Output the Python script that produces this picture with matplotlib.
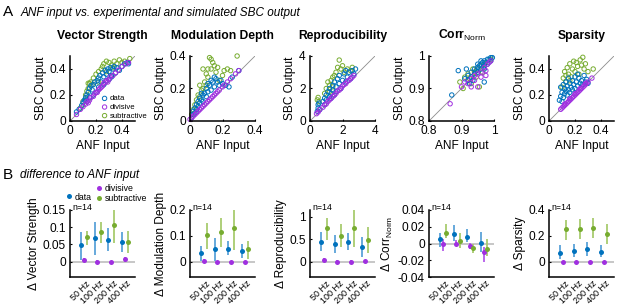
import numpy as np
import matplotlib
matplotlib.use("Agg")
import matplotlib.pyplot as plt
from matplotlib.lines import Line2D
from matplotlib.ticker import FormatStrFormatter
from matplotlib.transforms import ScaledTranslation

plt.rcParams['font.family'] = ['Liberation Sans', 'DejaVu Sans']
plt.rcParams['mathtext.fontset'] = 'custom'
plt.rcParams['mathtext.rm'] = 'Liberation Sans'

# ---- panel A: ANF input (x) vs SBC output (y) ----
vs_data = [(0.05,0.07),(0.07,0.09),(0.09,0.12),(0.10,0.14),(0.11,0.16),(0.12,0.18),(0.13,0.20),(0.13,0.15),
           (0.14,0.22),(0.15,0.25),(0.16,0.27),(0.17,0.24),(0.18,0.28),(0.19,0.30),(0.20,0.22),(0.21,0.31),
           (0.22,0.33),(0.23,0.35),(0.24,0.30),(0.25,0.37),(0.26,0.34),(0.27,0.39),(0.28,0.36),(0.29,0.40),
           (0.30,0.38),(0.31,0.41),(0.32,0.35),(0.33,0.40),(0.34,0.42),(0.35,0.37),(0.36,0.41),(0.38,0.39),
           (0.40,0.42),(0.42,0.44),(0.44,0.45),(0.45,0.44),(0.26,0.28),(0.30,0.32),(0.22,0.26),(0.18,0.20),
           (0.28,0.31),(0.32,0.34),(0.15,0.18),(0.12,0.16)]
vs_div = [(0.05,0.05),(0.08,0.09),(0.10,0.11),(0.12,0.13),(0.13,0.15),(0.15,0.16),(0.16,0.18),(0.18,0.19),
          (0.19,0.21),(0.20,0.22),(0.22,0.24),(0.23,0.25),(0.25,0.27),(0.26,0.29),(0.27,0.30),(0.28,0.31),
          (0.30,0.32),(0.31,0.34),(0.33,0.35),(0.35,0.37),(0.37,0.39),(0.40,0.42),(0.43,0.44),(0.45,0.45),
          (0.14,0.14),(0.21,0.22),(0.24,0.26),(0.29,0.30)]
vs_sub = [(0.08,0.10),(0.10,0.15),(0.12,0.20),(0.13,0.23),(0.14,0.25),(0.15,0.29),(0.16,0.30),(0.18,0.33),
          (0.20,0.36),(0.22,0.38),(0.24,0.40),(0.25,0.42),(0.26,0.44),(0.28,0.46),(0.30,0.45),(0.32,0.43),
          (0.34,0.46),(0.36,0.44),(0.38,0.47),(0.40,0.45),(0.42,0.46),(0.46,0.48),(0.22,0.30),(0.17,0.28),
          (0.28,0.38),(0.14,0.29),(0.33,0.41)]

md_data = [(0.01,0.02),(0.02,0.04),(0.02,0.06),(0.03,0.05),(0.03,0.08),(0.04,0.07),(0.04,0.10),(0.05,0.09),
           (0.05,0.12),(0.06,0.11),(0.06,0.14),(0.07,0.13),(0.08,0.16),(0.08,0.12),(0.09,0.17),(0.10,0.15),
           (0.10,0.20),(0.11,0.18),(0.12,0.22),(0.13,0.19),(0.14,0.24),(0.15,0.21),(0.16,0.26),(0.17,0.24),
           (0.18,0.22),(0.19,0.25),(0.20,0.23),(0.22,0.22),(0.24,0.21),(0.26,0.27),(0.30,0.31),(0.13,0.25),
           (0.11,0.23),(0.15,0.27),(0.07,0.17)]
md_div = [(0.00,0.01),(0.01,0.02),(0.02,0.03),(0.03,0.04),(0.04,0.05),(0.05,0.06),(0.06,0.07),(0.07,0.08),
          (0.08,0.09),(0.09,0.10),(0.10,0.11),(0.11,0.12),(0.12,0.13),(0.13,0.14),(0.14,0.15),(0.15,0.16),
          (0.16,0.17),(0.17,0.18),(0.18,0.19),(0.20,0.21),(0.21,0.22),(0.23,0.24),(0.25,0.26),(0.28,0.29),
          (0.30,0.31)]
md_sub = [(0.01,0.04),(0.02,0.07),(0.03,0.10),(0.04,0.13),(0.05,0.16),(0.06,0.15),(0.07,0.19),(0.08,0.20),
          (0.09,0.24),(0.10,0.22),(0.10,0.29),(0.11,0.27),(0.12,0.39),(0.13,0.38),(0.13,0.32),(0.14,0.36),
          (0.15,0.34),(0.16,0.30),(0.17,0.33),(0.18,0.25),(0.20,0.28),(0.21,0.31),(0.23,0.32),(0.25,0.31),
          (0.29,0.40),(0.08,0.32),(0.11,0.32),(0.06,0.22)]

rep_data = [(0.45,0.6),(0.5,0.8),(0.5,1.0),(0.55,1.1),(0.6,0.7),(0.8,1.2),(0.9,1.4),(1.0,1.6),(1.0,1.3),
            (1.1,1.8),(1.2,1.5),(1.2,2.0),(1.3,1.7),(1.4,2.2),(1.4,1.9),(1.5,2.4),(1.5,1.6),(1.6,2.1),
            (1.7,2.6),(1.8,2.3),(1.8,2.8),(1.9,2.0),(2.0,2.5),(2.1,2.9),(2.2,2.4),(2.3,2.7),(2.4,3.0),
            (2.5,2.6),(2.6,3.1),(2.7,2.9),(2.8,3.2),(2.2,3.1),(1.6,1.8),(1.3,1.4),(0.9,1.0)]
rep_div = [(0.4,0.45),(0.5,0.55),(0.6,0.7),(0.8,0.85),(0.9,1.0),(1.0,1.05),(1.1,1.2),(1.2,1.3),(1.3,1.4),
           (1.4,1.5),(1.5,1.6),(1.6,1.7),(1.7,1.85),(1.8,1.9),(1.9,2.0),(2.0,2.15),(2.1,2.25),(2.2,2.3),
           (2.3,2.45),(2.4,2.5),(2.5,2.6),(2.6,2.7),(2.7,2.8)]
rep_sub = [(0.45,1.3),(0.5,1.45),(0.55,1.2),(0.9,1.7),(1.0,2.0),(1.2,2.2),(1.3,2.5),(1.4,2.1),(1.5,2.8),
           (1.6,3.0),(1.7,3.3),(1.8,3.75),(1.9,3.2),(2.0,3.4),(2.1,3.0),(2.3,3.2),(2.5,3.1),(2.6,3.3),
           (1.2,1.8),(1.1,2.4),(1.4,2.7)]

cn_data = [(0.87,0.88),(0.89,0.955),(0.91,0.93),(0.92,0.94),(0.92,0.925),(0.93,0.95),(0.93,0.935),(0.94,0.96),
           (0.94,0.945),(0.95,0.965),(0.95,0.95),(0.955,0.97),(0.96,0.975),(0.96,0.96),(0.965,0.98),(0.97,0.985),
           (0.97,0.97),(0.975,0.98),(0.98,0.99),(0.98,0.975),(0.985,0.99),(0.99,0.995),(0.99,0.985),(0.995,0.995),
           (0.96,0.985),(0.95,0.975),(0.97,0.96),(0.945,0.955),(0.925,0.915),(0.935,0.925),(0.97,0.92),(0.915,0.96)]
cn_div = [(0.865,0.853),(0.90,0.905),(0.91,0.92),(0.92,0.915),(0.93,0.905),(0.93,0.93),(0.94,0.925),(0.95,0.905),
          (0.95,0.945),(0.96,0.95),(0.96,0.935),(0.97,0.965),(0.975,0.94),(0.98,0.975),(0.985,0.98),(0.99,0.985),
          (0.975,0.955),(0.94,0.94)]
cn_sub = [(0.895,0.92),(0.91,0.935),(0.92,0.945),(0.925,0.93),(0.93,0.915),(0.94,0.95),(0.945,0.935),(0.95,0.96),
          (0.955,0.905),(0.96,0.97),(0.965,0.95),(0.97,0.975),(0.98,0.98),(0.99,0.99),(0.905,0.90),(0.935,0.96)]

sp_data = [(0.08,0.16),(0.09,0.19),(0.10,0.22),(0.10,0.15),(0.11,0.18),(0.11,0.28),(0.12,0.21),(0.12,0.25),
           (0.13,0.23),(0.13,0.30),(0.14,0.27),(0.15,0.24),(0.15,0.33),(0.16,0.22),(0.16,0.29),(0.17,0.26),
           (0.18,0.31),(0.18,0.24),(0.19,0.28),(0.20,0.25),(0.20,0.34),(0.21,0.30),(0.22,0.27),(0.23,0.33),
           (0.24,0.29),(0.25,0.31),(0.26,0.28),(0.27,0.35),(0.28,0.30),(0.29,0.32),(0.30,0.29),(0.14,0.20),
           (0.22,0.36),(0.09,0.26)]
sp_div = [(0.09,0.09),(0.10,0.10),(0.11,0.11),(0.12,0.12),(0.13,0.13),(0.14,0.14),(0.15,0.15),(0.16,0.16),
          (0.17,0.17),(0.18,0.18),(0.19,0.19),(0.20,0.20),(0.21,0.21),(0.22,0.22),(0.23,0.23),(0.24,0.24),
          (0.25,0.25),(0.26,0.26),(0.27,0.27),(0.28,0.28),(0.29,0.29),(0.30,0.30),(0.33,0.33),(0.12,0.13),
          (0.16,0.17),(0.20,0.21),(0.24,0.25),(0.28,0.29)]
sp_sub = [(0.10,0.26),(0.11,0.33),(0.12,0.38),(0.13,0.30),(0.14,0.41),(0.15,0.36),(0.16,0.44),(0.17,0.34),
          (0.18,0.40),(0.19,0.46),(0.20,0.38),(0.21,0.45),(0.22,0.42),(0.23,0.36),(0.24,0.47),(0.25,0.43),
          (0.26,0.49),(0.27,0.40),(0.28,0.44),(0.30,0.38),(0.34,0.40),(0.16,0.31),(0.13,0.35)]

# ---- panel B: difference to ANF input, mean and error range per frequency ----
freqs = ['50 Hz', '100 Hz', '200 Hz', '400 Hz']

b_vs_data = ([0.047, 0.068, 0.063, 0.056], [0.004, 0.020, 0.030, 0.027], [0.087, 0.116, 0.097, 0.085])
b_vs_div = ([0.005, -0.001, -0.002, 0.006], [-0.002, -0.008, -0.007, -0.001], [0.011, 0.005, 0.003, 0.012])
b_vs_sub = ([0.070, 0.085, 0.107, 0.056], [0.049, 0.054, 0.054, 0.025], [0.090, 0.116, 0.152, 0.090])

b_md_data = ([0.032, 0.048, 0.049, 0.039], [0.003, 0.003, 0.026, 0.013], [0.061, 0.091, 0.078, 0.068])
b_md_div = ([0.004, 0.0, 0.0, 0.0], [0.0, -0.003, -0.003, -0.003], [0.008, 0.003, 0.003, 0.003])
b_md_sub = ([0.103, 0.115, 0.129, 0.049], [0.048, 0.058, 0.045, 0.009], [0.149, 0.168, 0.200, 0.081])

b_rep_data = ([0.44, 0.39, 0.44, 0.32], [0.23, 0.19, 0.25, 0.11], [0.66, 0.59, 0.64, 0.55])
b_rep_div = ([0.03, 0.0, 0.0, 0.01], [-0.02, -0.04, -0.03, -0.02], [0.07, 0.04, 0.03, 0.04])
b_rep_sub = ([0.75, 0.56, 0.74, 0.47], [0.49, 0.32, 0.32, 0.19], [0.98, 0.84, 1.14, 0.76])

b_cn_data = ([0.005, 0.011, 0.008, 0.001], [-0.004, 0.003, 0.002, -0.010], [0.013, 0.022, 0.017, 0.014])
b_cn_div = ([0.0, 0.0, -0.003, -0.010], [-0.009, -0.003, -0.006, -0.022], [0.005, 0.004, 0.001, -0.004])
b_cn_sub = ([0.013, 0.003, -0.005, -0.006], [0.007, -0.005, -0.011, -0.015], [0.023, 0.012, 0.0, 0.005])

b_sp_data = ([0.070, 0.083, 0.098, 0.077], [0.018, 0.034, 0.046, 0.034], [0.129, 0.134, 0.152, 0.129])
b_sp_div = ([0.0, 0.0, 0.0, 0.0], [-0.003, -0.003, -0.003, -0.003], [0.003, 0.003, 0.003, 0.003])
b_sp_sub = ([0.253, 0.253, 0.258, 0.214], [0.168, 0.173, 0.180, 0.134], [0.320, 0.330, 0.340, 0.290])

c_data, c_div, c_sub = '#0072BD', '#A030E0', '#77AC30'
e_data, e_div, e_sub = '#5BA3D9', '#B45CEB', '#A8CB6E'

W, H = 617, 308
fig = plt.figure(figsize=(W / 100, H / 100), dpi=100)

lefts = [70, 190, 310, 429, 549]


def px_axes(left, top, bottom, width=65):
    return fig.add_axes([left / W, 1 - bottom / H, width / W, (bottom - top) / H])


def style(ax):
    for s in ['top', 'right']:
        ax.spines[s].set_visible(False)
    for s in ['left', 'bottom']:
        ax.spines[s].set_linewidth(1.1)
    ax.tick_params(direction='in', length=1.5, width=0.8, labelsize=8.6, pad=3)


# ---------- row A ----------
a_panels = [
    ('Vector Strength', vs_data, vs_div, vs_sub, (0, 0.5), [0, 0.2, 0.4]),
    ('Modulation Depth', md_data, md_div, md_sub, (0, 0.4), [0, 0.2, 0.4]),
    ('Reproducibility', rep_data, rep_div, rep_sub, (0, 4), [0, 2, 4]),
    (r'Corr$_{\rm Norm}$', cn_data, cn_div, cn_sub, (0.8, 1), [0.8, 0.9, 1]),
    ('Sparsity', sp_data, sp_div, sp_sub, (0, 0.5), [0, 0.2, 0.4]),
]

for i, (title, d, dv, sb, lim, ticks) in enumerate(a_panels):
    ax = px_axes(lefts[i], 56, 121)
    style(ax)
    ax.plot(lim, lim, color='#8C8C8C', lw=0.6, zorder=1)
    handles = []
    for pts, col, lab in [(sb, c_sub, 'subtractive'), (d, c_data, 'data'), (dv, c_div, 'divisive')]:
        x, y = np.array(pts).T
        h = ax.scatter(x, y, s=10, facecolors='none', edgecolors=col, linewidths=0.7,
                       label=lab, zorder=2, clip_on=False)
        handles.append(h)
    ax.set_xlim(lim)
    ax.set_ylim(lim)
    ax.set_xticks(ticks)
    ax.set_yticks(ticks)
    ax.xaxis.set_major_formatter(FormatStrFormatter('%g'))
    ax.yaxis.set_major_formatter(FormatStrFormatter('%g'))
    ax.set_xlabel('ANF Input', fontsize=8.6, labelpad=2)
    ax.set_ylabel('SBC Output', fontsize=8.6, labelpad=2)
    ax.set_title(title, fontsize=8.7, fontweight='bold', pad=12)
    if i == 0:
        ax.legend(handles=[handles[1], handles[2], handles[0]], loc='upper left',
                  bbox_to_anchor=(0.49, 0.40), frameon=False, fontsize=5.6,
                  handlelength=0.7, handletextpad=0.3, labelspacing=0.15,
                  borderpad=0, borderaxespad=0, scatterpoints=1)

# ---------- row B ----------
b_panels = [
    ('Δ Vector Strength', b_vs_data, b_vs_div, b_vs_sub, (-0.045, 0.15), [0, 0.05, 0.1, 0.15]),
    ('Δ Modulation Depth', b_md_data, b_md_div, b_md_sub, (-0.06, 0.2), [0, 0.1, 0.2]),
    ('Δ Reproducibility', b_rep_data, b_rep_div, b_rep_sub, (-0.345, 1.15), [0, 0.5, 1]),
    (r'Δ Corr$_{\rm Norm}$', b_cn_data, b_cn_div, b_cn_sub, (-0.04, 0.04), [-0.04, -0.02, 0, 0.02, 0.04]),
    ('Δ Sparsity', b_sp_data, b_sp_div, b_sp_sub, (-0.12, 0.4), [0, 0.2, 0.4]),
]

pos = np.arange(1, len(freqs) + 1)
shift = ScaledTranslation(5 / 100, 0, fig.dpi_scale_trans)
for i, (ylab, d, dv, sb, ylim, ticks) in enumerate(b_panels):
    ax = px_axes(lefts[i], 210, 277)
    style(ax)
    ax.axhline(0, color='#BDBDBD', lw=1.2, zorder=1)
    for (m, lo, hi), off, col, ecol in [(d, -0.2, c_data, e_data), (dv, 0.0, c_div, e_div),
                                         (sb, 0.25, c_sub, e_sub)]:
        m, lo, hi = np.array(m), np.array(lo), np.array(hi)
        ax.errorbar(pos + off, m, yerr=[m - lo, hi - m], fmt='o', color=col, ecolor=ecol,
                    elinewidth=1.3, ms=3.6, mew=0, capsize=0, zorder=3)
    ax.set_xlim(0, 4.75)
    ax.set_ylim(ylim)
    ax.set_yticks(ticks)
    ax.yaxis.set_major_formatter(FormatStrFormatter('%g'))
    ax.set_xticks(pos)
    ax.set_xticklabels(freqs, rotation=45, ha='right', va='center', rotation_mode='anchor', fontsize=6.5)
    ax.tick_params(axis='x', length=0, pad=4)
    for lab in ax.get_xticklabels():
        lab.set_transform(lab.get_transform() + shift)
    ax.set_ylabel(ylab, fontsize=8.6, labelpad=2)
    ax.text(0.03, 1.03, 'n=14', transform=ax.transAxes, fontsize=6.3, va='center', ha='left')

# section headings
fig.text(3 / W, 1 - 12 / H, 'A', fontsize=11, va='center', ha='left')
fig.text(21 / W, 1 - 13 / H, 'ANF input vs. experimental and simulated SBC output', fontsize=8.5,
         style='italic', va='center', ha='left')
fig.text(3 / W, 1 - 175 / H, 'B', fontsize=11, va='center', ha='left')
fig.text(20 / W, 1 - 175 / H, 'difference to ANF input', fontsize=8.5, style='italic',
         va='center', ha='left')

# legend for row B
h_data = Line2D([], [], marker='o', ls='none', color=c_data, ms=3.6, mew=0)
h_div = Line2D([], [], marker='o', ls='none', color=c_div, ms=3.6, mew=0)
h_sub = Line2D([], [], marker='o', ls='none', color=c_sub, ms=3.6, mew=0)
fig.legend(handles=[h_data], labels=['data'], loc='center left',
           bbox_to_anchor=(66 / W, 1 - 197 / H), frameon=False, fontsize=6.3,
           handlelength=0.6, handletextpad=0.4, borderpad=0, borderaxespad=0)
fig.legend(handles=[h_div, h_sub], labels=['divisive', 'subtractive'], loc='center left',
           bbox_to_anchor=(96 / W, 1 - 193.5 / H), frameon=False, fontsize=6.3,
           handlelength=0.6, handletextpad=0.4, labelspacing=0.1, borderpad=0, borderaxespad=0)

fig.savefig('out.png', dpi=100)
